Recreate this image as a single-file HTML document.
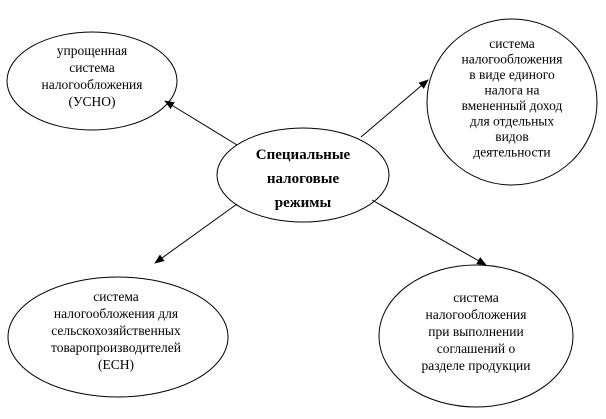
<!DOCTYPE html>
<html><head><meta charset="utf-8"><style>
body{margin:0;background:#fff}
svg text{font-family:"Liberation Serif",serif;font-size:13.5px;fill:#000}
</style></head><body>
<svg width="606" height="414" viewBox="0 0 606 414" xmlns="http://www.w3.org/2000/svg">
<defs><marker id="a" markerWidth="10" markerHeight="8" refX="9" refY="4" orient="auto" markerUnits="userSpaceOnUse"><path d="M0,0 L10,4 L0,8z" fill="#000"/></marker></defs>
<g fill="none" stroke="#000" stroke-width="1">
<ellipse cx="92" cy="81" rx="85" ry="49"/>
<ellipse cx="512" cy="102" rx="85" ry="83"/>
<ellipse cx="303" cy="175" rx="86" ry="47"/>
<ellipse cx="118" cy="337" rx="110" ry="60"/>
<ellipse cx="476" cy="336" rx="97" ry="71"/>
<line x1="237" y1="145" x2="165" y2="101" marker-end="url(#a)"/>
<line x1="361" y1="137" x2="428" y2="80" marker-end="url(#a)"/>
<line x1="237" y1="204" x2="155" y2="263" marker-end="url(#a)"/>
<line x1="372" y1="200" x2="486" y2="265" marker-end="url(#a)"/>
</g>
<g text-anchor="middle">
<text x="92" y="55">упрощенная</text>
<text x="92" y="72">система</text>
<text x="92" y="89">налогообложения</text>
<text x="92" y="106">(УСНО)</text>
<text x="512" y="48">система</text>
<text x="512" y="63.5">налогообложения</text>
<text x="512" y="79">в виде единого</text>
<text x="512" y="94.5">налога на</text>
<text x="512" y="110">вмененный доход</text>
<text x="512" y="125.5">для отдельных</text>
<text x="512" y="141">видов</text>
<text x="512" y="156.5">деятельности</text>
<text x="303" y="159" style="font-weight:bold;font-size:15px">Специальные</text>
<text x="303" y="183" style="font-weight:bold;font-size:15px">налоговые</text>
<text x="303" y="207" style="font-weight:bold;font-size:15px">режимы</text>
<text x="116" y="301">система</text>
<text x="116" y="318">налогообложения для</text>
<text x="116" y="335">сельскохозяйственных</text>
<text x="116" y="352">товаропроизводителей</text>
<text x="116" y="369">(ЕСН)</text>
<text x="476" y="302">система</text>
<text x="476" y="319">налогообложения</text>
<text x="476" y="336">при выполнении</text>
<text x="476" y="353">соглашений о</text>
<text x="476" y="370">разделе продукции</text>
</g>
</svg>
</body></html>
